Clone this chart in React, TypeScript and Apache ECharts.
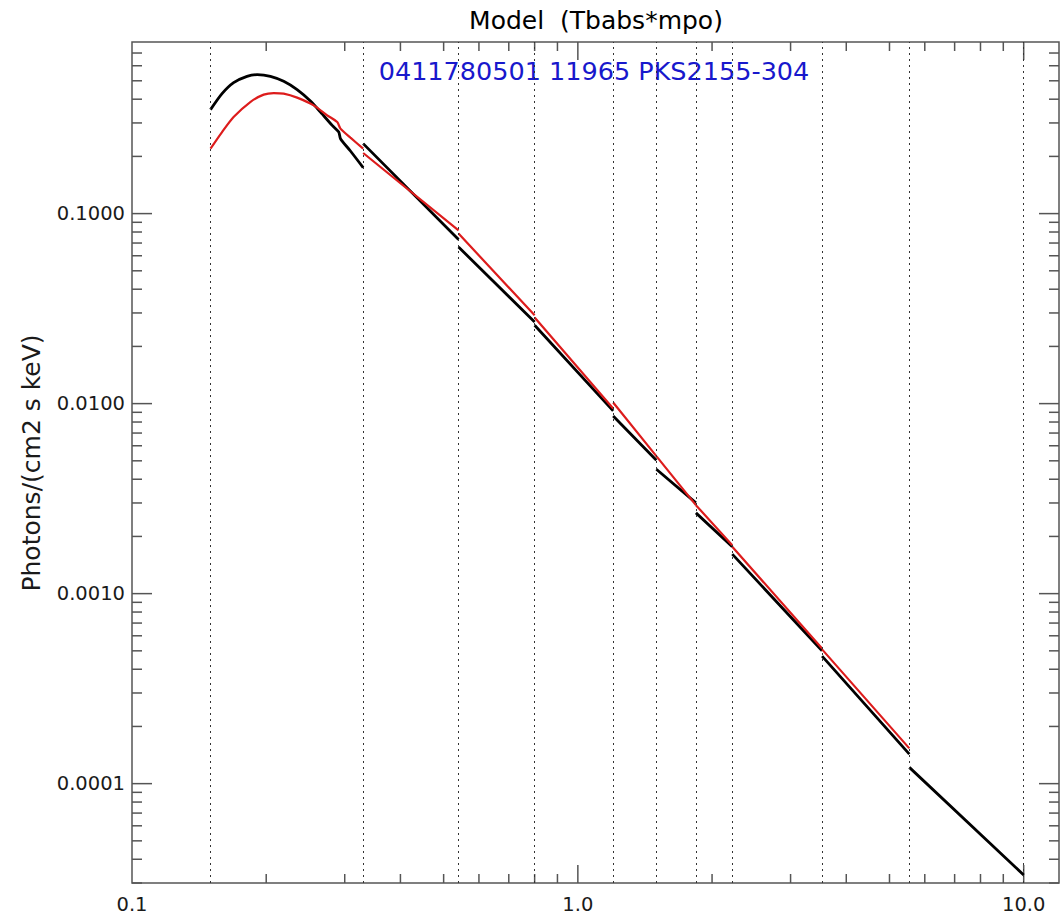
import React, { useEffect, useRef } from "react";
import * as echarts from "echarts";

const FONT = '"DejaVu Sans", "Liberation Sans", sans-serif';

// Axis ranges and ticks
const X_MIN = 0.1;
const X_MAX = 12;
const Y_MIN = 3e-5;
const Y_MAX = 0.8;
const xMajorTicks = [1, 10];
const xDecades = [0.1, 1];
const yMajorTicks = [1e-4, 1e-3, 1e-2, 0.1];
const yDecades = [1e-5, 1e-4, 1e-3, 1e-2, 0.1];
const minorMultiples = [2, 3, 4, 5, 6, 7, 8, 9];

// Band boundaries (dotted verticals), keV
const bandEdges = [0.15, 0.33, 0.54, 0.8, 1.2, 1.5, 1.84, 2.22, 3.53, 5.54, 10.0];

// Black model (null = break between bands)
const blackEnergy = [
  0.15, 0.1592, 0.169, 0.1811, 0.1909, 0.2044, 0.2189, 0.2346, 0.2513, 0.2647, 0.2812, 0.2909, 0.2935, 0.309, 0.33, null,
  0.33, 0.54, null,
  0.54, 0.8, null,
  0.8, 1.2, null,
  1.2, 1.5, null,
  1.5, 1.84, null,
  1.84, 2.22, null,
  2.22, 3.53, null,
  3.53, 5.54, null,
  5.54, 10.0,
];
const blackFlux = [
  0.3524, 0.4278, 0.4887, 0.5276, 0.5385, 0.5276, 0.4966, 0.449, 0.3911, 0.3423, 0.2913, 0.2686, 0.248, 0.2135, 0.1746, null,
  0.2335, 0.073, null,
  0.0667, 0.02691, null,
  0.02585, 0.009154, null,
  0.008616, 0.005039, null,
  0.004516, 0.003003, null,
  0.002661, 0.001763, null,
  0.001614, 0.0005002, null,
  0.000469, 0.0001431, null,
  0.0001218, 0.00003305,
];

// Red model
const redEnergy = [
  0.15, 0.1592, 0.169, 0.1842, 0.1974, 0.2079, 0.2189, 0.2346, 0.2556, 0.2741, 0.2886, 0.2935, 0.309, 0.33, null,
  0.33, 0.54, null,
  0.54, 0.8, null,
  0.8, 1.2, null,
  1.2, 1.5, null,
  1.5, 1.84, null,
  1.84, 2.22, null,
  2.22, 3.53, null,
  3.53, 5.54,
];
const redFlux = [
  0.2197, 0.2686, 0.3223, 0.3865, 0.4227, 0.4309, 0.4278, 0.4076, 0.3713, 0.329, 0.3032, 0.28, 0.2511, 0.2197, null,
  0.2084, 0.0817, null,
  0.0785, 0.02917, null,
  0.02837, 0.009423, null,
  0.01013, 0.005289, null,
  0.005289, 0.002921, null,
  0.002921, 0.001799, null,
  0.001763, 0.0005149, null,
  0.0005088, 0.0001533,
];

const titleText = "Model  (Tbabs*mpo)";
const subtitleText = "0411780501 11965 PKS2155-304";
const yName = "Photons/(cm2 s keV)";

function toData(e: (number | null)[], f: (number | null)[]) {
  return e.map((v, i) => (v == null || f[i] == null ? ["-", "-"] : [v, f[i]]));
}

export default function App() {
  const ref = useRef<HTMLDivElement>(null);
  useEffect(() => {
    const chart = echarts.init(ref.current!, null, { renderer: "svg" });

    const xTickData: number[][] = [];
    xDecades.forEach((d) => minorMultiples.forEach((m) => {
      const v = d * m;
      if (v > X_MIN && v < X_MAX) xTickData.push([v, 0.01, 0]);
    }));
    xMajorTicks.forEach((v) => xTickData.push([v, 0.01, 1]));
    const yTickData: number[][] = [];
    yDecades.forEach((d) => minorMultiples.forEach((m) => {
      const v = d * m;
      if (v > Y_MIN && v < Y_MAX) yTickData.push([1, v, 0]);
    }));
    yMajorTicks.forEach((v) => yTickData.push([1, v, 1]));

    const tickStyle = { stroke: "#555", lineWidth: 1.5 };

    chart.setOption({
      animation: false,
      backgroundColor: "#fff",
      grid: {
        left: 132,
        right: 1,
        top: 42,
        bottom: 31,
        show: true,
        borderColor: "#555",
        borderWidth: 1.5,
        backgroundColor: "transparent",
      },
      xAxis: {
        type: "log",
        logBase: 10,
        min: X_MIN,
        max: X_MAX,
        axisLine: { show: false },
        axisTick: { show: false },
        splitLine: { show: false },
        axisLabel: {
          formatter: (v: number) => v.toFixed(1),
          showMinLabel: true,
          showMaxLabel: false,
          fontFamily: FONT,
          fontSize: 19.5,
          color: "#1a1a1a",
          margin: 11,
        },
      },
      yAxis: {
        type: "log",
        logBase: 10,
        min: Y_MIN,
        max: Y_MAX,
        axisLine: { show: false },
        axisTick: { show: false },
        splitLine: { show: false },
        axisLabel: {
          formatter: (v: number) => v.toFixed(4),
          showMinLabel: false,
          showMaxLabel: false,
          fontFamily: FONT,
          fontSize: 19.5,
          color: "#1a1a1a",
          margin: 7,
        },
      },
      graphic: [
        {
          type: "text",
          x: 596,
          y: 20,
          style: { text: titleText, font: `25px ${FONT}`, fill: "#000", align: "center", verticalAlign: "middle" },
        },
        {
          type: "text",
          x: 594,
          y: 71,
          style: { text: subtitleText, font: `25.5px ${FONT}`, fill: "#1818cc", align: "center", verticalAlign: "middle" },
        },
        {
          type: "text",
          x: 31,
          y: 463,
          rotation: Math.PI / 2,
          style: { text: yName, font: `25px ${FONT}`, fill: "#1a1a1a", align: "center", verticalAlign: "middle" },
        },
      ],
      series: [
        {
          type: "line",
          data: [],
          silent: true,
          markLine: {
            silent: true,
            symbol: ["none", "none"],
            label: { show: false },
            lineStyle: { color: "#333", width: 1, type: [2, 4] },
            data: bandEdges.map((e) => ({ xAxis: e })),
          },
        },
        {
          type: "custom",
          silent: true,
          data: xTickData,
          encode: { x: 0, y: 1 },
          renderItem: (_p: any, api: any) => {
            const e = api.value(0);
            const len = api.value(2) ? 18 : 9;
            const b = api.coord([e, Y_MIN]);
            const t = api.coord([e, Y_MAX]);
            return {
              type: "group",
              children: [
                { type: "line", shape: { x1: b[0], y1: b[1], x2: b[0], y2: b[1] - len }, style: tickStyle },
                { type: "line", shape: { x1: t[0], y1: t[1], x2: t[0], y2: t[1] + len }, style: tickStyle },
              ],
            };
          },
        },
        {
          type: "custom",
          silent: true,
          data: yTickData,
          encode: { x: 0, y: 1 },
          renderItem: (_p: any, api: any) => {
            const v = api.value(1);
            const len = api.value(2) ? 20 : 10;
            const l = api.coord([X_MIN, v]);
            const r = api.coord([X_MAX, v]);
            return {
              type: "group",
              children: [
                { type: "line", shape: { x1: l[0], y1: l[1], x2: l[0] + len, y2: l[1] }, style: tickStyle },
                { type: "line", shape: { x1: r[0], y1: r[1], x2: r[0] - len, y2: r[1] }, style: tickStyle },
              ],
            };
          },
        },
        {
          type: "line",
          name: "black",
          data: toData(blackEnergy, blackFlux),
          showSymbol: false,
          connectNulls: false,
          smooth: 0.25,
          lineStyle: { color: "#000", width: 2.8 },
          silent: true,
        },
        {
          type: "line",
          name: "red",
          data: toData(redEnergy, redFlux),
          showSymbol: false,
          connectNulls: false,
          smooth: 0.25,
          lineStyle: { color: "#dd1c1c", width: 2.2 },
          silent: true,
        },
      ],
    });
    return () => chart.dispose();
  }, []);
  return (
    <div
      ref={ref}
      style={{ position: "absolute", left: 0, top: 0, width: 1060, height: 914, background: "#fff" }}
    />
  );
}
